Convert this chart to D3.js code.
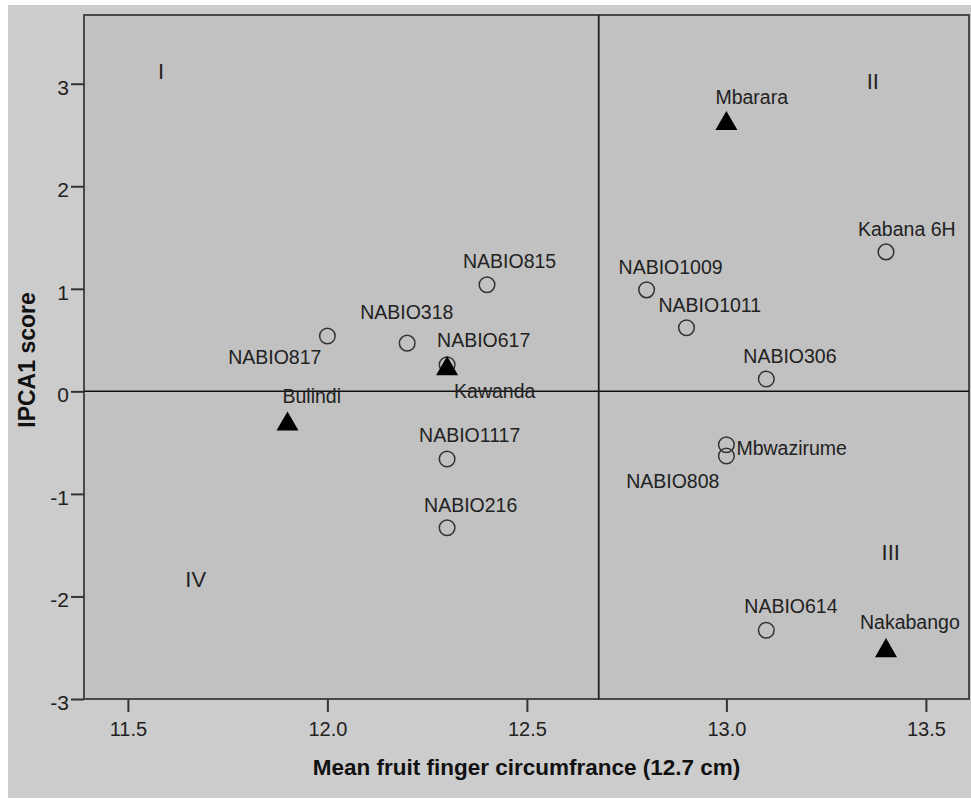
<!DOCTYPE html>
<html>
<head>
<meta charset="utf-8">
<script src="https://cdn.jsdelivr.net/npm/d3@7"></script>
<style>
    body { margin: 0; background: #ffffff; }
    svg { display: block; font-family: "Liberation Sans", Arial, sans-serif; }
</style>
</head>
<body>
<div id="chart"></div>
<script>
// genotypes (open circles)
const genotypes = ["NABIO815", "NABIO817", "NABIO318", "NABIO617", "NABIO1117", "NABIO216",
    "NABIO1009", "NABIO1011", "NABIO306", "Kabana 6H", "Mbwazirume", "NABIO808", "NABIO614"];
const genoCircumference = [12.4, 12.0, 12.2, 12.3, 12.3, 12.3, 12.8, 12.9, 13.1, 13.4, 13.0, 13.0, 13.1];
const genoIPCA1 = [1.04, 0.54, 0.47, 0.26, -0.66, -1.33, 0.99, 0.62, 0.12, 1.36, -0.52, -0.63, -2.33];

// environments (filled triangles)
const sites = ["Mbarara", "Kawanda", "Bulindi", "Nakabango"];
const siteCircumference = [13.0, 12.3, 11.9, 13.4];
const siteIPCA1 = [2.61, 0.22, -0.32, -2.53];

// grand mean of circumference
const meanCircumference = 12.68;

// axis ticks
const xTicks = [11.5, 12.0, 12.5, 13.0, 13.5];
const yTicks = [-3, -2, -1, 0, 1, 2, 3];

// quadrant labels
const quadLabels = ["I", "II", "III", "IV"];
const quadX = [11.583, 13.367, 13.412, 11.67];
const quadY = [3.05, 2.95, -1.64, -1.91];

// label placement (pixel offset from the marker, anchor)
const labelOffset = {
    "NABIO815": [-24, -17, "start"],
    "NABIO817": [-6, 28, "end"],
    "NABIO318": [-47, -24, "start"],
    "NABIO617": [-10, -18, "start"],
    "NABIO1117": [-28, -17, "start"],
    "NABIO216": [-23, -16, "start"],
    "NABIO1009": [-28, -16, "start"],
    "NABIO1011": [-28, -16, "start"],
    "NABIO306": [-23, -16, "start"],
    "Kabana 6H": [-28, -16, "start"],
    "Mbwazirume": [10, 10, "start"],
    "NABIO808": [-7, 32, "end"],
    "NABIO614": [-22, -17, "start"],
    "Mbarara": [-11, -20, "start"],
    "Kawanda": [7, 29, "start"],
    "Bulindi": [-5, -21, "start"],
    "Nakabango": [-26, -22, "start"]
};

const W = 971, H = 799;
const plot = { left: 84, right: 969, top: 15, bottom: 699 };

const svg = d3.select("#chart").append("svg")
    .attr("width", W)
    .attr("height", H);

// outer background
svg.append("rect")
    .attr("x", 8).attr("y", 5)
    .attr("width", W - 8).attr("height", H - 6)
    .attr("fill", "#cccccc");

const x = d3.scaleLinear()
    .domain([11.39, 13.608])
    .range([plot.left, plot.right]);
const y = d3.scaleLinear()
    .domain([-3, 3.67])
    .range([plot.bottom, plot.top]);

// plot area
svg.append("rect")
    .attr("x", plot.left).attr("y", plot.top)
    .attr("width", plot.right - plot.left).attr("height", plot.bottom - plot.top)
    .attr("fill", "#c1c1c1")
    .attr("stroke", "#4a4a4a")
    .attr("stroke-width", 2);

// quadrant lines
svg.append("line")
    .attr("x1", plot.left).attr("x2", plot.right)
    .attr("y1", y(0)).attr("y2", y(0))
    .attr("stroke", "#111").attr("stroke-width", 1.5);
svg.append("line")
    .attr("x1", x(meanCircumference)).attr("x2", x(meanCircumference))
    .attr("y1", plot.top).attr("y2", plot.bottom)
    .attr("stroke", "#222").attr("stroke-width", 1.8);

// x axis
const xAxis = svg.append("g")
    .attr("transform", "translate(0," + plot.bottom + ")")
    .call(d3.axisBottom(x).tickValues(xTicks).tickFormat(d3.format(".1f"))
        .tickSize(13).tickPadding(10));
xAxis.select(".domain").remove();
xAxis.selectAll("line").attr("stroke", "#333").attr("stroke-width", 2);
xAxis.selectAll("text")
    .attr("fill", "#222")
    .style("font-size", "20px");

// y axis
const yAxis = svg.append("g")
    .attr("transform", "translate(" + plot.left + ",0)")
    .call(d3.axisLeft(y).tickValues(yTicks).tickFormat(d3.format("d"))
        .tickSize(13).tickPadding(2));
yAxis.select(".domain").remove();
yAxis.selectAll("line").attr("stroke", "#333").attr("stroke-width", 2);
yAxis.selectAll("text")
    .attr("fill", "#222")
    .attr("dy", "0.5em")
    .style("font-size", "21px")
    .text(d => d < 0 ? "-" + Math.abs(d) : d);

// axis titles
svg.append("text")
    .attr("x", (plot.left + plot.right) / 2)
    .attr("y", 775)
    .attr("text-anchor", "middle")
    .attr("fill", "#111")
    .style("font-size", "22.5px")
    .style("font-weight", "bold")
    .text("Mean fruit finger circumfrance (12.7 cm)");

svg.append("text")
    .attr("transform", "translate(35," + ((plot.top + plot.bottom) / 2 + 3) + ") rotate(-90)")
    .attr("text-anchor", "middle")
    .attr("fill", "#111")
    .style("font-size", "23px")
    .style("font-weight", "bold")
    .text("IPCA1 score");

// quadrant numerals
svg.selectAll(".quad")
    .data(quadLabels)
    .enter().append("text")
    .attr("class", "quad")
    .attr("x", (d, i) => x(quadX[i]))
    .attr("y", (d, i) => y(quadY[i]))
    .attr("text-anchor", "middle")
    .attr("fill", "#222")
    .style("font-size", "22px")
    .text(d => d);

// genotype circles
const geno = genotypes.map((g, i) => ({ name: g, cx: genoCircumference[i], cy: genoIPCA1[i] }));
svg.selectAll(".geno")
    .data(geno)
    .enter().append("circle")
    .attr("class", "geno")
    .attr("cx", d => x(d.cx))
    .attr("cy", d => y(d.cy))
    .attr("r", 7.8)
    .attr("fill", "none")
    .attr("stroke", "#333")
    .attr("stroke-width", 1.5);

// site triangles
const site = sites.map((s, i) => ({ name: s, cx: siteCircumference[i], cy: siteIPCA1[i] }));
svg.selectAll(".site")
    .data(site)
    .enter().append("path")
    .attr("class", "site")
    .attr("transform", d => "translate(" + x(d.cx) + "," + y(d.cy) + ")")
    .attr("d", d3.symbol().type(d3.symbolTriangle).size(210))
    .attr("fill", "#000");

// point labels
svg.selectAll(".lbl")
    .data(geno.concat(site))
    .enter().append("text")
    .attr("class", "lbl")
    .attr("x", d => x(d.cx) + labelOffset[d.name][0])
    .attr("y", d => y(d.cy) + labelOffset[d.name][1])
    .attr("text-anchor", d => labelOffset[d.name][2])
    .attr("fill", "#222")
    .style("font-size", "19.5px")
    .text(d => d.name);
</script>
</body>
</html>
